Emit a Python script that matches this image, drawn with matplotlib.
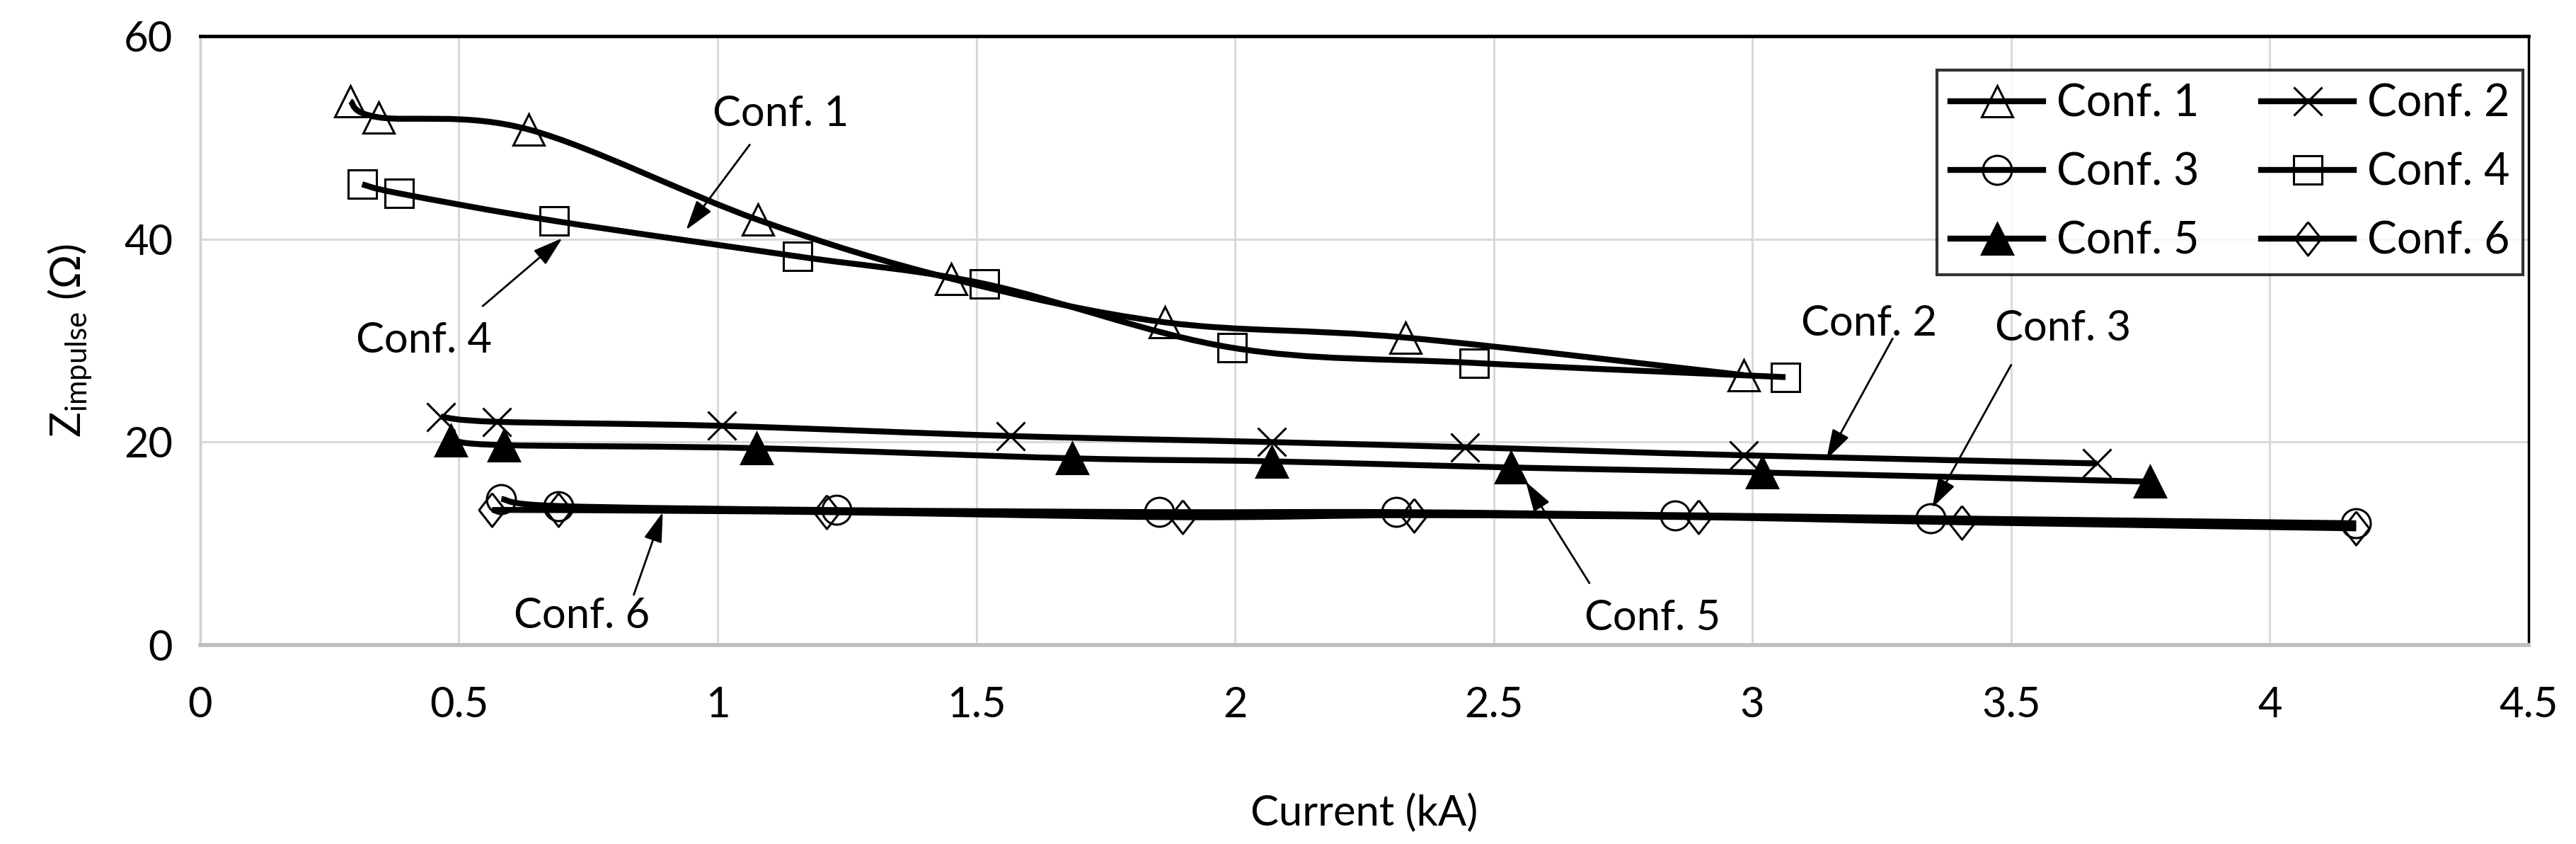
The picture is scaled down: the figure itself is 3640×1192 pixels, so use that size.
import numpy as np
import matplotlib
matplotlib.use("Agg")
import matplotlib.pyplot as plt
from matplotlib.path import Path
from matplotlib.patches import PathPatch
from matplotlib.lines import Line2D

plt.rcParams["font.family"] = ["Lato", "DejaVu Sans"]

# datos
conf1_x = [0.29, 0.345, 0.635, 1.078, 1.452, 1.865, 2.329, 2.983]
conf1_y = [53.6, 52.0, 50.8, 41.9, 36.1, 31.8, 30.3, 26.6]

conf2_x = [0.465, 0.573, 1.008, 1.566, 2.071, 2.444, 2.983, 3.666]
conf2_y = [22.5, 22.0, 21.6, 20.6, 20.0, 19.5, 18.7, 17.9]

conf3_x = [0.582, 0.692, 1.23, 1.854, 2.311, 2.851, 3.345, 4.167]
conf3_y = [14.4, 13.7, 13.3, 13.1, 13.1, 12.8, 12.5, 12.0]

conf4_x = [0.313, 0.385, 0.684, 1.154, 1.515, 1.994, 2.462, 3.064]
conf4_y = [45.4, 44.5, 41.8, 38.3, 35.6, 29.3, 27.8, 26.4]

conf5_x = [0.485, 0.587, 1.075, 1.685, 2.071, 2.533, 3.019, 3.769]
conf5_y = [20.2, 19.7, 19.4, 18.4, 18.1, 17.5, 17.0, 16.1]

conf6_x = [0.564, 0.692, 1.21, 1.898, 2.346, 2.896, 3.405, 4.167]
conf6_y = [13.3, 13.3, 13.1, 12.6, 12.8, 12.6, 12.1, 11.5]

etiquetas = ["Conf. 1", "Conf. 2", "Conf. 3", "Conf. 4", "Conf. 5", "Conf. 6"]

# anotaciones: (texto, posicion texto, inicio flecha, punta flecha)
notas = [
    ("Conf. 1", (1.122, 52.3), (1.062, 49.3), (0.939, 40.9)),
    ("Conf. 4", (0.432, 30.0), (0.546, 33.4), (0.700, 40.1)),
    ("Conf. 2", (3.226, 31.7), (3.271, 30.2), (3.143, 18.3)),
    ("Conf. 3", (3.600, 31.2), (3.500, 27.6), (3.347, 13.5)),
    ("Conf. 5", (2.807, 2.65), (2.685, 6.1), (2.562, 16.1)),
    ("Conf. 6", (0.738, 2.85), (0.838, 4.95), (0.894, 13.1)),
]

FS = 43
LW = 6
MS = 31
MEW = 2.2

diamante = [(0, 1), (0.78, 0), (0, -1), (-0.78, 0), (0, 1)]


def curva_suave(x, y):
    # curva tipo Excel (Catmull-Rom como Bezier)
    p = np.column_stack([x, y])
    n = len(p)
    verts = [p[0]]
    codes = [Path.MOVETO]
    for i in range(n - 1):
        p0 = p[i - 1] if i > 0 else p[i]
        p1 = p[i]
        p2 = p[i + 1]
        p3 = p[i + 2] if i + 2 < n else p[i + 1]
        verts += [p1 + (p2 - p0) / 6, p2 - (p3 - p1) / 6, p2]
        codes += [Path.CURVE4] * 3
    return Path(verts, codes)


series = [
    (conf1_x, conf1_y, dict(marker="^", mfc="none", ms=MS)),
    (conf2_x, conf2_y, dict(marker="x", ms=MS * 0.95)),
    (conf3_x, conf3_y, dict(marker="o", mfc="none", ms=MS * 0.95)),
    (conf4_x, conf4_y, dict(marker="s", mfc="none", ms=MS * 0.92)),
    (conf5_x, conf5_y, dict(marker="^", mfc="black", ms=MS)),
    (conf6_x, conf6_y, dict(marker=diamante, mfc="none", ms=MS * 1.1)),
]

fig = plt.figure(figsize=(36.41, 11.92), dpi=100)
ax = fig.add_axes([0.0777, 0.2357, 0.9036, 0.7215])

handles = []
for (x, y, est), lab in zip(series, etiquetas):
    ax.add_patch(PathPatch(curva_suave(x, y), fill=False, lw=LW, ec="black",
                           capstyle="butt", zorder=3))
    ax.plot(x, y, ls="none", color="black", mec="black", mew=MEW, zorder=4, **est)
    handles.append(Line2D([], [], color="black", lw=LW, mec="black", mew=MEW, **est))

for txt, pos, ini, fin in notas:
    ax.annotate("", xy=fin, xytext=ini,
                arrowprops=dict(arrowstyle="-|>,head_length=0.65,head_width=0.2",
                                color="black", lw=2, mutation_scale=40,
                                shrinkA=0, shrinkB=0), zorder=5)
    ax.text(pos[0], pos[1], txt, fontsize=FS, ha="center", va="center", zorder=5)

ax.set_xlim(0, 4.5)
ax.set_ylim(0, 60)
ax.set_xticks(np.arange(0, 4.51, 0.5))
ax.set_xticklabels(["0", "0.5", "1", "1.5", "2", "2.5", "3", "3.5", "4", "4.5"])
ax.set_yticks([0, 20, 40, 60])
ax.tick_params(length=0, labelsize=FS)
ax.tick_params(axis="x", pad=42)
ax.tick_params(axis="y", pad=28)
ax.grid(True, color="#d9d9d9", lw=2.2, zorder=0)
ax.set_axisbelow(True)

ax.spines["top"].set_color("black")
ax.spines["top"].set_linewidth(3.5)
ax.spines["right"].set_color("black")
ax.spines["right"].set_linewidth(2.5)
ax.spines["left"].set_color("#d0d0d0")
ax.spines["left"].set_linewidth(2.5)
ax.spines["bottom"].set_color("#bfbfbf")
ax.spines["bottom"].set_linewidth(4)

ax.set_xlabel("Current (kA)", fontsize=FS, labelpad=70)
ax.set_ylabel("Z$_{\\mathregular{impulse}}$ (Ω)", fontsize=FS, labelpad=30)

# orden por filas como en Excel: 1 2 / 3 4 / 5 6
orden = [0, 2, 4, 1, 3, 5]
leg = ax.legend([handles[i] for i in orden], [etiquetas[i] for i in orden],
                ncol=2, loc="upper right",
                bbox_to_anchor=(0.9976, 0.944), borderaxespad=0,
                fontsize=45, frameon=True, fancybox=False, edgecolor="black",
                handlelength=2.1, handletextpad=0.3, columnspacing=1.4,
                labelspacing=0.62, borderpad=0.3)
leg.get_frame().set_linewidth(3)

fig.savefig("out.png", dpi=100, facecolor="white")
